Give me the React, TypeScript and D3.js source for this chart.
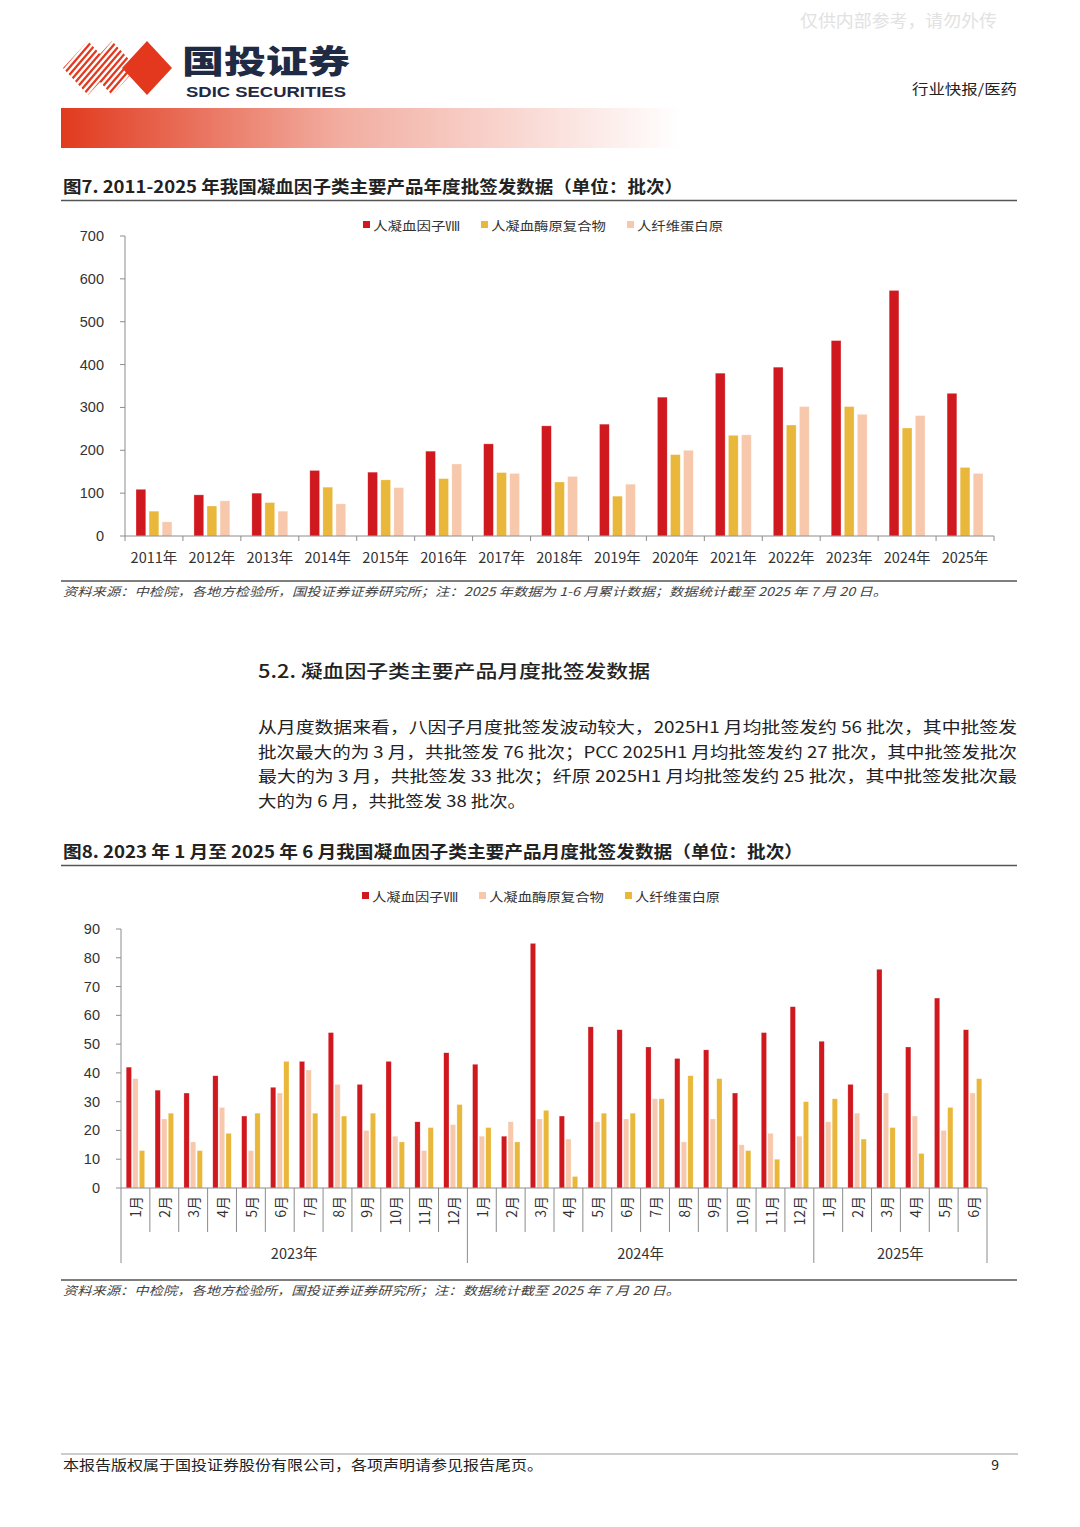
import React from "react";
import * as d3 from "d3";

// ---------- Chart 1 data ----------
const years = ["2011年","2012年","2013年","2014年","2015年","2016年","2017年","2018年","2019年","2020年","2021年","2022年","2023年","2024年","2025年"];
const f8Annual = [109, 96, 100, 153, 149, 198, 215, 257, 261, 324, 380, 394, 456, 573, 333];
const pccAnnual = [58, 70, 78, 114, 131, 134, 148, 126, 93, 190, 235, 259, 302, 252, 160];
const fibAnnual = [33, 82, 58, 75, 113, 168, 146, 139, 121, 200, 236, 302, 284, 281, 146];
const annualTicks = [0, 100, 200, 300, 400, 500, 600, 700];

// ---------- Chart 2 data ----------
const monthLabels = ["1月","2月","3月","4月","5月","6月","7月","8月","9月","10月","11月","12月",
  "1月","2月","3月","4月","5月","6月","7月","8月","9月","10月","11月","12月",
  "1月","2月","3月","4月","5月","6月"];
const yearGroups = ["2023年", "2024年", "2025年"];
const yearGroupSizes = [12, 12, 6];
const f8Monthly = [42,34,33,39,25,35,44,54,36,44,23,47, 43,18,85,25,56,55,49,45,48,33,54,63, 51,36,76,49,66,55];
const pccMonthly = [38,24,16,28,13,33,41,36,20,18,13,22, 18,23,24,17,23,24,31,16,24,15,19,18, 23,26,33,25,20,33];
const fibMonthly = [13,26,13,19,26,44,26,25,26,16,21,29, 21,16,27,4,26,26,31,39,38,13,10,30, 31,17,21,12,28,38];
const monthlyTicks = [0,10,20,30,40,50,60,70,80,90];

const RED = "#d0181f";
const YELLOW = "#e9b83b";
const PEACH = "#f7c8ac";

const CJK = "'Noto Sans CJK SC', 'Noto Sans', sans-serif";
const NUM = "'Liberation Sans', Arial, sans-serif";
const TXT = "#333333";

const paragraph = [
  "从月度数据来看，八因子月度批签发波动较大，2025H1 月均批签发约 56 批次，其中批签发",
  "批次最大的为 3 月，共批签发 76 批次；PCC 2025H1 月均批签发约 27 批次，其中批签发批次",
  "最大的为 3 月，共批签发 33 批次；纤原 2025H1 月均批签发约 25 批次，其中批签发批次最",
  "大的为 6 月，共批签发 38 批次。",
];

function Legend({ items, y }: { items: { x: number; label: string; color: string; w: number }[]; y: number }) {
  return (
    <g>
      {items.map((it) => (
        <g key={it.label}>
          <rect x={it.x} y={y - 4} width={7} height={7} fill={it.color} />
          <text x={it.x + 10} y={y} dominantBaseline="central" fontFamily={CJK} fontSize={12.5} fill={TXT} textLength={it.w} lengthAdjust="spacingAndGlyphs">
            {it.label}
          </text>
        </g>
      ))}
    </g>
  );
}

function Logo() {
  const diamond = (cx: number) => `M${cx},41 L${cx + 25},68 L${cx},95 L${cx - 25},68 Z`;
  const stripes: string[] = [];
  for (let i = -12; i < 14; i++) {
    const x0 = 40 + i * 6.2;
    stripes.push(`M${x0},100 L${x0 + 55},36 L${x0 + 58},36 L${x0 + 3},100 Z`);
  }
  return (
    <g>
      <defs>
        <clipPath id="stripeClip">
          <path d={diamond(88)} />
          <path d={diamond(112)} />
        </clipPath>
      </defs>
      <g clipPath="url(#stripeClip)">
        {stripes.map((d, i) => (
          <path key={i} d={d} fill="#e3371e" />
        ))}
      </g>
      <path d={diamond(147)} fill="#e3371e" />
      <text x={182} y={73} fontFamily={CJK} fontWeight={900} fontSize={32} fill="#1f2a44" textLength={168} lengthAdjust="spacingAndGlyphs">
        国投证券
      </text>
      <text x={186} y={97} fontFamily={NUM} fontWeight={700} fontSize={15} fill="#1f2a44" textLength={160} lengthAdjust="spacingAndGlyphs">
        SDIC SECURITIES
      </text>
    </g>
  );
}

function AnnualChart() {
  const left = 125, right = 994, top = 236, bottom = 536;
  const x0 = d3.scaleBand<string>().domain(years).range([left, right]).paddingInner(0.38).paddingOuter(0.19);
  const seriesNames = ["f8", "pcc", "fib"];
  const x1 = d3.scaleBand<string>().domain(seriesNames).range([0, x0.bandwidth()]).paddingInner(0.25);
  const y = d3.scaleLinear().domain([0, 700]).range([bottom, top]);
  const series = [
    { key: "f8", values: f8Annual, color: RED },
    { key: "pcc", values: pccAnnual, color: YELLOW },
    { key: "fib", values: fibAnnual, color: PEACH },
  ];
  const step = x0.step();
  return (
    <g>
      <line x1={left} x2={left} y1={top} y2={bottom} stroke="#8c8c8c" />
      {annualTicks.map((t) => (
        <g key={t}>
          <line x1={left - 5} x2={left} y1={y(t)} y2={y(t)} stroke="#8c8c8c" />
          <text x={104} y={y(t)} textAnchor="end" dominantBaseline="central" fontFamily={NUM} fontSize={14.5} fill={TXT}>
            {t}
          </text>
        </g>
      ))}
      {series.map((s) =>
        years.map((yr, i) => (
          <rect
            key={s.key + yr}
            x={(x0(yr) as number) + (x1(s.key) as number)}
            y={y(s.values[i])}
            width={x1.bandwidth()}
            height={bottom - y(s.values[i])}
            fill={s.color}
            stroke="#ffffff"
            strokeOpacity={0.5}
            strokeWidth={0.6}
          />
        ))
      )}
      <line x1={left} x2={right} y1={bottom} y2={bottom} stroke="#8c8c8c" />
      {d3.range(years.length + 1).map((k) => (
        <line key={k} x1={left + k * step} x2={left + k * step} y1={bottom} y2={bottom + 5} stroke="#8c8c8c" />
      ))}
      {years.map((yr) => (
        <text key={yr} x={(x0(yr) as number) + x0.bandwidth() / 2} y={556} textAnchor="middle" dominantBaseline="central" fontFamily={CJK} fontSize={14.5} fill={TXT}>
          {yr}
        </text>
      ))}
    </g>
  );
}

function MonthlyChart() {
  const left = 121, right = 987, top = 929, bottom = 1188;
  const idx = monthLabels.map((_, i) => String(i));
  const x0 = d3.scaleBand<string>().domain(idx).range([left, right]).paddingInner(0.36).paddingOuter(0.18);
  const seriesNames = ["f8", "pcc", "fib"];
  const x1 = d3.scaleBand<string>().domain(seriesNames).range([0, x0.bandwidth()]).paddingInner(0.2);
  const y = d3.scaleLinear().domain([0, 90]).range([bottom, top]);
  const series = [
    { key: "f8", values: f8Monthly, color: RED },
    { key: "pcc", values: pccMonthly, color: PEACH },
    { key: "fib", values: fibMonthly, color: YELLOW },
  ];
  const step = x0.step();
  const yearStarts: number[] = [];
  let acc = 0;
  yearGroupSizes.forEach((n) => {
    yearStarts.push(acc);
    acc += n;
  });
  const yearBoundaries = new Set<number>([...yearStarts, acc]);
  return (
    <g>
      <line x1={left} x2={left} y1={top} y2={bottom} stroke="#8c8c8c" />
      {monthlyTicks.map((t) => (
        <g key={t}>
          <line x1={left - 5} x2={left} y1={y(t)} y2={y(t)} stroke="#8c8c8c" />
          <text x={100} y={y(t)} textAnchor="end" dominantBaseline="central" fontFamily={NUM} fontSize={14.5} fill={TXT}>
            {t}
          </text>
        </g>
      ))}
      {series.map((s) =>
        idx.map((k, i) => (
          <rect
            key={s.key + k}
            x={(x0(k) as number) + (x1(s.key) as number)}
            y={y(s.values[i])}
            width={x1.bandwidth()}
            height={bottom - y(s.values[i])}
            fill={s.color}
            stroke="#ffffff"
            strokeOpacity={0.5}
            strokeWidth={0.5}
          />
        ))
      )}
      <line x1={left} x2={right} y1={bottom} y2={bottom} stroke="#8c8c8c" />
      {d3.range(monthLabels.length + 1).map((k) => (
        <line
          key={k}
          x1={left + k * step}
          x2={left + k * step}
          y1={bottom}
          y2={yearBoundaries.has(k) ? 1263 : 1232}
          stroke="#8c8c8c"
        />
      ))}
      {monthLabels.map((m, i) => {
        const cx = (x0(String(i)) as number) + x0.bandwidth() / 2;
        return (
          <text
            key={i}
            transform={`translate(${cx},1196) rotate(-90)`}
            textAnchor="end"
            dominantBaseline="central"
            fontFamily={CJK}
            fontSize={14}
            fill={TXT}
          >
            {m}
          </text>
        );
      })}
      {yearGroups.map((g, gi) => {
        const x = left + (yearStarts[gi] + yearGroupSizes[gi] / 2) * step;
        return (
          <text key={g} x={x} y={1252} textAnchor="middle" dominantBaseline="central" fontFamily={CJK} fontSize={14.5} fill={TXT}>
            {g}
          </text>
        );
      })}
    </g>
  );
}

export default function App() {
  return (
    <svg
      width={1080}
      height={1527}
      viewBox="0 0 1080 1527"
      style={{ position: "absolute", left: 0, top: 0, background: "#ffffff" }}
    >
      <rect x={0} y={0} width={1080} height={1527} fill="#ffffff" />
      <defs>
        <linearGradient id="hdrGrad" x1="0" x2="1" y1="0" y2="0">
          <stop offset="0" stopColor="#e13a1e" />
          <stop offset="0.45" stopColor="#f2ada0" />
          <stop offset="1" stopColor="#ffffff" />
        </linearGradient>
      </defs>
      <text x={800} y={27} fontFamily={CJK} fontSize={17} fill="#e2e2e2" textLength={197} lengthAdjust="spacingAndGlyphs">仅供内部参考，请勿外传</text>
      <Logo />
      <text x={912} y={94} fontFamily={CJK} fontSize={14} fill="#222" textLength={105} lengthAdjust="spacingAndGlyphs">行业快报/医药</text>
      <rect x={61} y={108} width={620} height={40} fill="url(#hdrGrad)" />

      <text x={63} y={193} fontFamily={CJK} fontWeight={700} fontSize={16.5} fill="#222" textLength={620} lengthAdjust="spacingAndGlyphs">
        图7. 2011-2025 年我国凝血因子类主要产品年度批签发数据（单位：批次）
      </text>
      <line x1={61} x2={1017} y1={200.5} y2={200.5} stroke="#555" strokeWidth={1.5} />
      <Legend
        y={225}
        items={[
          { x: 363, label: "人凝血因子Ⅷ", color: RED, w: 87 },
          { x: 481, label: "人凝血酶原复合物", color: YELLOW, w: 115 },
          { x: 627, label: "人纤维蛋白原", color: PEACH, w: 86 },
        ]}
      />
      <AnnualChart />
      <line x1={61} x2={1017} y1={581} y2={581} stroke="#555" strokeWidth={1.5} />
      <text x={63} y={596} fontFamily={CJK} fontStyle="italic" fontSize={12} fill="#444" textLength={824} lengthAdjust="spacingAndGlyphs">
        资料来源：中检院，各地方检验所，国投证券证券研究所；注：2025 年数据为 1-6 月累计数据；数据统计截至 2025 年 7 月 20 日。
      </text>

      <text x={258} y={678} fontFamily={CJK} fontWeight={500} fontSize={18} fill="#222" textLength={392} lengthAdjust="spacingAndGlyphs">
        5.2. 凝血因子类主要产品月度批签发数据
      </text>
      {paragraph.map((line, i) => (
        <text
          key={i}
          x={258}
          y={733 + i * 24.5}
          fontFamily={CJK}
          fontSize={16}
          fill="#222"
          textLength={i < paragraph.length - 1 ? 759 : 268}
          lengthAdjust="spacingAndGlyphs"
        >
          {line}
        </text>
      ))}

      <text x={63} y={858} fontFamily={CJK} fontWeight={700} fontSize={16.5} fill="#222" textLength={740} lengthAdjust="spacingAndGlyphs">
        图8. 2023 年 1 月至 2025 年 6 月我国凝血因子类主要产品月度批签发数据（单位：批次）
      </text>
      <line x1={61} x2={1017} y1={865.5} y2={865.5} stroke="#555" strokeWidth={1.5} />
      <Legend
        y={896}
        items={[
          { x: 362, label: "人凝血因子Ⅷ", color: RED, w: 86 },
          { x: 479, label: "人凝血酶原复合物", color: PEACH, w: 115 },
          { x: 625, label: "人纤维蛋白原", color: YELLOW, w: 85 },
        ]}
      />
      <MonthlyChart />
      <line x1={61} x2={1017} y1={1280} y2={1280} stroke="#555" strokeWidth={1.5} />
      <text x={63} y={1295} fontFamily={CJK} fontStyle="italic" fontSize={12} fill="#444" textLength={617} lengthAdjust="spacingAndGlyphs">
        资料来源：中检院，各地方检验所，国投证券证券研究所；注：数据统计截至 2025 年 7 月 20 日。
      </text>

      <line x1={61} x2={1018} y1={1454} y2={1454} stroke="#999" strokeWidth={1} />
      <text x={63} y={1470} fontFamily={CJK} fontSize={14} fill="#222" textLength={480} lengthAdjust="spacingAndGlyphs">
        本报告版权属于国投证券股份有限公司，各项声明请参见报告尾页。
      </text>
      <text x={999} y={1470} textAnchor="end" fontFamily={CJK} fontSize={14} fill="#222">9</text>
    </svg>
  );
}
